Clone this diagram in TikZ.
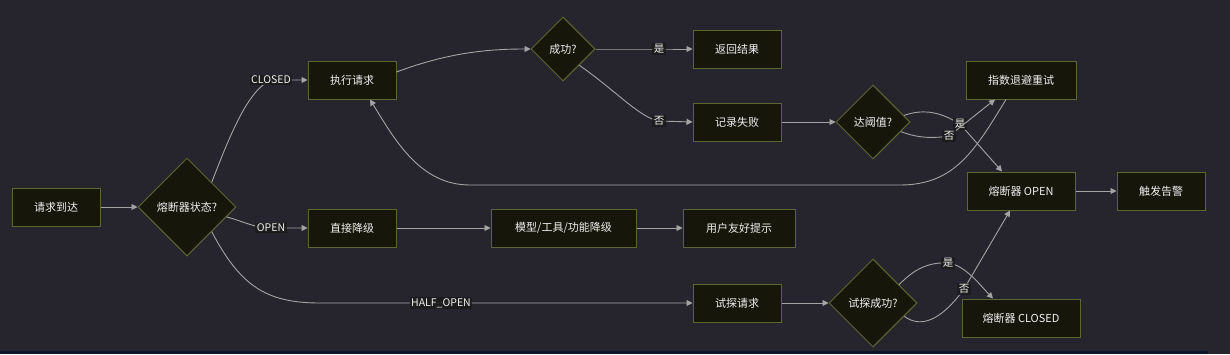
\documentclass[tikz,border=0pt]{standalone}
\usepackage{fontspec}
\setmainfont{Noto Sans CJK SC}
\usepackage{xcolor}
\usepackage{tikz}
\usetikzlibrary{shapes.geometric,arrows.meta,positioning}

\definecolor{canvas}{HTML}{26252D}
\definecolor{boxfill}{HTML}{17160A}
\definecolor{boxline}{HTML}{5C6631}
\definecolor{wire}{HTML}{A4A4A4}
\definecolor{tagfill}{HTML}{1B1B1B}
\definecolor{strip}{HTML}{0B1428}

\begin{document}
\begin{tikzpicture}[
  x=1pt, y=-1pt,
  node distance=35pt and 40pt,
  every node/.style={font=\fontsize{11}{13}\selectfont, text=white!94!black},
  block/.style={draw=boxline, fill=boxfill, line width=1pt, align=center,
                minimum height=38pt, minimum width=88pt, inner sep=2pt},
  decision/.style={draw=boxline, fill=boxfill, line width=1pt, diamond,
                   aspect=1, inner sep=0pt, align=center},
  lbl/.style={fill=tagfill, fill opacity=0.85, text opacity=1,
              inner sep=1.5pt, font=\fontsize{10.5}{12}\selectfont},
  arrow/.style={draw=wire, line width=0.9pt,
                -{Triangle[length=6pt,width=6pt]}},
]
\useasboundingbox (0,0) rectangle (1230,354);
\fill[canvas] (0,0) rectangle (1230,354);
\fill[strip] (0,351) rectangle (1208,354);

% entry and state check
\node[block] (arrive) at (56,207) {请求到达};
\node[decision, minimum size=98pt, right=37pt of arrive] (state) {熔断器状态?};
% closed branch (top)
\node[block] (exec) at (352,80) {执行请求};
\node[decision, minimum size=64pt] (success) at (563,49) {成功?};
\node[block] (result) at (737,49) {返回结果};
\node[block, below=34pt of result] (fail) {记录失败};
\node[decision, minimum size=74pt, right=54pt of fail] (thresh) {达阈值?};
\node[block, minimum width=110pt] (retry) at (1021,80) {指数退避重试};
\node[block, minimum width=108pt] (open) at (1021,191) {熔断器 OPEN};
\node[block, right=41pt of open] (alarm) {触发告警};
% open branch (middle)
\node[block] (direct) at (352,228) {直接降级};
\node[block, minimum width=145pt, right=94pt of direct] (degrade) {模型/工具/功能降级};
\node[block, minimum width=112pt, right=46pt of degrade] (hint) {用户友好提示};
% half-open branch (bottom)
\node[block] (probe) at (737,303) {试探请求};
\node[decision, minimum size=88pt, right=47pt of probe] (probeok) {试探成功?};
\node[block, minimum width=118pt] (closedN) at (1021,318) {熔断器 CLOSED};

% arrows
\draw[arrow] (arrive.east) -- (state.west);
\draw[arrow] (state.north east) .. controls (230,135) and (248,90) .. (271,80)
   node[lbl] {CLOSED} -- (exec.west);
\draw[arrow] (state.-14) .. controls (245,222) and (255,228) .. (271,228)
   node[lbl] {OPEN} -- (direct.west);
\draw[arrow] (state.south east) .. controls (240,285) and (265,303) .. (320,303)
   -- (441,303) node[lbl] {HALF\_OPEN} -- (probe.west);
\draw[arrow] ([yshift=8pt]exec.east) .. controls (450,52) and (490,49) .. (success.west);
\draw[arrow] (success.east) -- (659,49) node[lbl] {是} -- (result.west);
\draw[arrow] (success.south east) .. controls (615,90) and (640,118) .. (659,121)
   node[lbl] {否} -- (fail.west);
\draw[arrow] (fail.east) -- (thresh.west);
\draw[arrow] (thresh.12) .. controls (925,108) and (942,113) .. (960,124)
   node[lbl] {是} -- ([xshift=-19pt]open.north);
\draw[arrow] (thresh.-19) .. controls (920,139) and (936,138) .. (949,136)
   node[lbl] {否} -- ([xshift=-26pt]retry.south);
% retry loops back
\draw[arrow] ([xshift=-15pt]retry.south) .. controls (975,150) and (955,185) .. (900,185)
   -- (470,185) .. controls (420,185) and (395,140) .. ([xshift=18pt]exec.south);
\draw[arrow] (open.east) -- (alarm.west);
\draw[arrow] (direct.east) -- (degrade.west);
\draw[arrow] (degrade.east) -- (hint.west);
\draw[arrow] (probe.east) -- (probeok.west);
\draw[arrow] (probeok.35) .. controls (915,268) and (930,262) .. (948,263)
   node[lbl] {是} .. controls (965,265) and (980,285) .. ([xshift=-28pt]closedN.north);
\draw[arrow] (probeok.-23) .. controls (920,328) and (940,322) .. (964,289)
   node[lbl] {否} -- ([xshift=-11pt]open.south);
\end{tikzpicture}
\end{document}
